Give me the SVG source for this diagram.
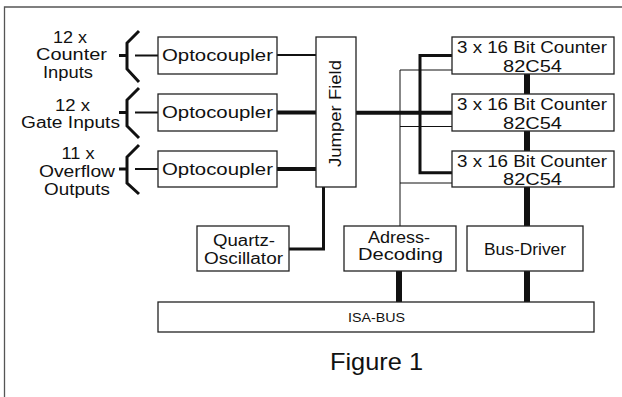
<svg xmlns="http://www.w3.org/2000/svg" width="622" height="397" viewBox="0 0 622 397">
<style>
.box{fill:#fff;stroke:#222;stroke-width:1.3}
.t{font-family:"Liberation Sans","DejaVu Sans",sans-serif;font-size:16px;fill:#111;text-anchor:middle}
.ln{fill:none;stroke:#111;stroke-linecap:butt}
.thin{stroke-width:1}
.w2{stroke-width:2}
.w3{stroke-width:3}
.w4{stroke-width:4}
.w6{stroke-width:6}
.br{fill:none;stroke:#111;stroke-width:3;stroke-linejoin:miter}
</style>
<rect width="622" height="397" fill="#fff"/>
<path d="M4.5 397 V7 H622" fill="none" stroke="#555" stroke-width="1.3"/>

<g id="connectors">
  <path class="br" d="M139 31 L127 43 V69 L139 82"/>
  <path class="ln w3" d="M119 55.5 H127"/>
  <path class="ln w2" d="M135 55.5 H158"/>
  <path class="br" d="M139 88 L127 100 V126 L139 138"/>
  <path class="ln w3" d="M119 112.5 H127"/>
  <path class="ln w2" d="M135 112.5 H158"/>
  <path class="br" d="M139 145 L127 157 V183 L139 194"/>
  <path class="ln w3" d="M119 169 H127"/>
  <path class="ln w2" d="M135 169 H158"/>
  <path class="ln w2" d="M277 55 H316"/>
  <path class="ln w4" d="M277 112.5 H316"/>
  <path class="ln w4" d="M277 169 H316"/>
  <path class="ln w4" d="M356 112.7 H452"/>
  <path class="ln w3" d="M452 55.5 H420 V172.7 H452"/>
  <path class="ln thin" d="M452 70 H400 V226"/>
  <path class="ln thin" d="M400 126.5 H452"/>
  <path class="ln thin" d="M400 183 H452"/>
  <path class="ln w3" d="M323.5 187 V249 H289"/>
  <path class="ln w6" d="M527 74 V94 M527 131 V151 M527 187 V226"/>
  <path class="ln w6" d="M399 271 V302 M527 271 V302"/>
</g>

<g id="labels-left">
  <text class="t" x="70" y="43" textLength="34" lengthAdjust="spacingAndGlyphs">12 x</text>
  <text class="t" x="71.5" y="60" textLength="71" lengthAdjust="spacingAndGlyphs">Counter</text>
  <text class="t" x="68" y="78" textLength="50" lengthAdjust="spacingAndGlyphs">Inputs</text>
  <text class="t" x="72.5" y="111" textLength="35" lengthAdjust="spacingAndGlyphs">12 x</text>
  <text class="t" x="70.5" y="128" textLength="99" lengthAdjust="spacingAndGlyphs">Gate Inputs</text>
  <text class="t" x="78" y="159" textLength="33" lengthAdjust="spacingAndGlyphs">11 x</text>
  <text class="t" x="77" y="177" textLength="76" lengthAdjust="spacingAndGlyphs">Overflow</text>
  <text class="t" x="77" y="195" textLength="66" lengthAdjust="spacingAndGlyphs">Outputs</text>
</g>

<g id="opto1"><rect class="box" x="158" y="37" width="119" height="37"/><text class="t" x="217.5" y="61" textLength="111" lengthAdjust="spacingAndGlyphs">Optocoupler</text></g>
<g id="opto2"><rect class="box" x="158" y="94" width="119" height="37"/><text class="t" x="217.5" y="118" textLength="111" lengthAdjust="spacingAndGlyphs">Optocoupler</text></g>
<g id="opto3"><rect class="box" x="158" y="151" width="119" height="36"/><text class="t" x="217.5" y="175" textLength="111" lengthAdjust="spacingAndGlyphs">Optocoupler</text></g>

<g id="jumper"><rect class="box" x="316" y="37" width="40" height="150"/><text class="t" transform="translate(341 113.5) rotate(-90)" x="0" y="0" textLength="107" lengthAdjust="spacingAndGlyphs">Jumper Field</text></g>

<g id="counter1"><rect class="box" x="452" y="37" width="162" height="37"/><text class="t" x="532" y="53" textLength="150" lengthAdjust="spacingAndGlyphs">3 x 16 Bit Counter</text><text class="t" x="532.5" y="71.5" textLength="59" lengthAdjust="spacingAndGlyphs">82C54</text></g>
<g id="counter2"><rect class="box" x="452" y="94" width="162" height="37"/><text class="t" x="532" y="110" textLength="150" lengthAdjust="spacingAndGlyphs">3 x 16 Bit Counter</text><text class="t" x="532.5" y="128.5" textLength="59" lengthAdjust="spacingAndGlyphs">82C54</text></g>
<g id="counter3"><rect class="box" x="452" y="151" width="162" height="36"/><text class="t" x="532" y="167" textLength="150" lengthAdjust="spacingAndGlyphs">3 x 16 Bit Counter</text><text class="t" x="532.5" y="184.5" textLength="59" lengthAdjust="spacingAndGlyphs">82C54</text></g>

<g id="quartz"><rect class="box" x="197" y="226" width="92" height="45"/><text class="t" x="244" y="246" textLength="62" lengthAdjust="spacingAndGlyphs">Quartz-</text><text class="t" x="243.5" y="264" textLength="79" lengthAdjust="spacingAndGlyphs">Oscillator</text></g>

<g id="adress"><rect class="box" x="344" y="226" width="112" height="45"/><text class="t" x="399" y="243" textLength="62" lengthAdjust="spacingAndGlyphs">Adress-</text><text class="t" x="400.5" y="260" textLength="85" lengthAdjust="spacingAndGlyphs">Decoding</text></g>

<g id="busdriver"><rect class="box" x="467" y="226" width="116" height="45"/><text class="t" x="525" y="255" textLength="82" lengthAdjust="spacingAndGlyphs">Bus-Driver</text></g>

<g id="isabus"><rect class="box" x="158" y="302" width="436" height="30"/><text class="t" x="376.5" y="322" style="font-size:12px" textLength="57" lengthAdjust="spacingAndGlyphs">ISA-BUS</text></g>

<text class="t" x="376.5" y="370" style="font-size:24px" textLength="93" lengthAdjust="spacingAndGlyphs">Figure 1</text>
</svg>
